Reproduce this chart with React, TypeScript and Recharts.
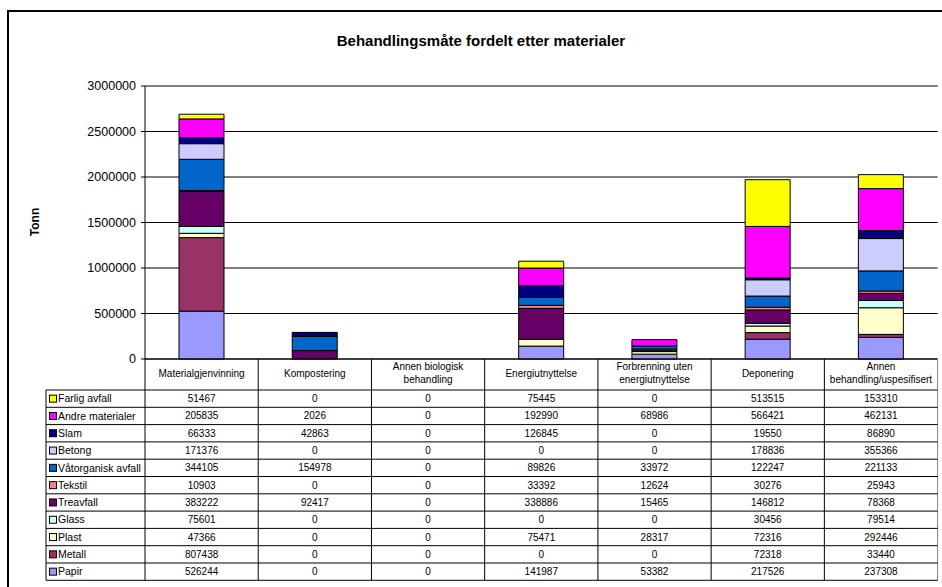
import React from 'react'
import { BarChart, Bar, XAxis, YAxis, CartesianGrid, ReferenceLine } from 'recharts'

const CATEGORIES = [
  'Materialgjenvinning',
  'Kompostering',
  'Annen biologisk behandling',
  'Energiutnyttelse',
  'Forbrenning uten energiutnyttelse',
  'Deponering',
  'Annen behandling/uspesifisert',
]

const PAPIR = [526244, 0, 0, 141987, 53382, 217526, 237308]
const METALL = [807438, 0, 0, 0, 0, 72318, 33440]
const PLAST = [47366, 0, 0, 75471, 28317, 72316, 292446]
const GLASS = [75601, 0, 0, 0, 0, 30456, 79514]
const TREAVFALL = [383222, 92417, 0, 338886, 15465, 146812, 78368]
const TEKSTIL = [10903, 0, 0, 33392, 12624, 30276, 25943]
const VATORGANISK = [344105, 154978, 0, 89826, 33972, 122247, 221133]
const BETONG = [171376, 0, 0, 0, 0, 178836, 355366]
const SLAM = [66333, 42863, 0, 126845, 0, 19550, 86890]
const ANDRE = [205835, 2026, 0, 192990, 68986, 566421, 462131]
const FARLIG = [51467, 0, 0, 75445, 0, 513515, 153310]

const Y_TICKS = [0, 500000, 1000000, 1500000, 2000000, 2500000, 3000000]

// stack order, bottom first
const SERIES: { name: string; values: number[]; color: string }[] = [
  { name: 'Papir', values: PAPIR, color: '#9999FF' },
  { name: 'Metall', values: METALL, color: '#993366' },
  { name: 'Plast', values: PLAST, color: '#FFFFCC' },
  { name: 'Glass', values: GLASS, color: '#CCFFFF' },
  { name: 'Treavfall', values: TREAVFALL, color: '#660066' },
  { name: 'Tekstil', values: TEKSTIL, color: '#FF8080' },
  { name: 'Våtorganisk avfall', values: VATORGANISK, color: '#0066CC' },
  { name: 'Betong', values: BETONG, color: '#CCCCFF' },
  { name: 'Slam', values: SLAM, color: '#000080' },
  { name: 'Andre materialer', values: ANDRE, color: '#FF00FF' },
  { name: 'Farlig avfall', values: FARLIG, color: '#FFFF00' },
]

const data = CATEGORIES.map((category, i) => {
  const row: Record<string, string | number> = { category }
  SERIES.forEach((s) => (row[s.name] = s.values[i]))
  return row
})

const FONT = "Arial, 'Liberation Sans', sans-serif"
const W = 942
const H = 587
const PLOT_LEFT = 145
const PLOT_RIGHT = 937.6
const PLOT_TOP = 86
const PLOT_BOTTOM = 359
const BAND = (PLOT_RIGHT - PLOT_LEFT) / CATEGORIES.length
const HEADER_BOTTOM = 390
const ROW_H = 17.3
const LEGEND_LEFT = 46
const TABLE_ROWS = [...SERIES].reverse()
const TABLE_BOTTOM = HEADER_BOTTOM + ROW_H * TABLE_ROWS.length

function wrap(text: string, maxChars: number) {
  const words = text.split(' ')
  const lines: string[] = []
  let cur = ''
  for (const w of words) {
    const next = cur ? cur + ' ' + w : w
    if (next.length > maxChars && cur) {
      lines.push(cur)
      cur = w
    } else cur = next
  }
  if (cur) lines.push(cur)
  return lines
}

function TableColumn(props: any) {
  const { x, payload } = props
  const i: number = payload.index
  const left = x - BAND / 2
  const right = x + BAND / 2
  const lines = wrap(String(payload.value), 20)
  const headY = (PLOT_BOTTOM + HEADER_BOTTOM) / 2 - 1.5 - ((lines.length - 1) * 12.5) / 2
  return (
    <g fontFamily={FONT} fontSize={10} fill="#000">
      <line x1={left} x2={left} y1={PLOT_BOTTOM} y2={TABLE_BOTTOM} stroke="#000" />
      {i === CATEGORIES.length - 1 && (
        <line x1={right} x2={right} y1={PLOT_BOTTOM} y2={TABLE_BOTTOM} stroke="#808080" />
      )}
      {lines.map((l, k) => (
        <text key={k} x={x} y={headY + k * 12.5} dy="0.35em" textAnchor="middle">
          {l}
        </text>
      ))}
      {TABLE_ROWS.map((s, r) => (
        <g key={s.name}>
          <line x1={left} x2={right} y1={HEADER_BOTTOM + r * ROW_H} y2={HEADER_BOTTOM + r * ROW_H} stroke="#000" />
          <text x={x} y={HEADER_BOTTOM + (r + 0.5) * ROW_H} dy="0.35em" textAnchor="middle">
            {s.values[i]}
          </text>
        </g>
      ))}
      <line x1={left} x2={right} y1={TABLE_BOTTOM} y2={TABLE_BOTTOM} stroke="#000" />
      {i === 0 && (
        <g>
          <line x1={LEGEND_LEFT} x2={LEGEND_LEFT} y1={HEADER_BOTTOM} y2={TABLE_BOTTOM} stroke="#000" />
          <line x1={LEGEND_LEFT} x2={left} y1={TABLE_BOTTOM} y2={TABLE_BOTTOM} stroke="#000" />
          {TABLE_ROWS.map((s, r) => {
            const cy = HEADER_BOTTOM + (r + 0.5) * ROW_H
            return (
              <g key={s.name}>
                <line x1={LEGEND_LEFT} x2={left} y1={HEADER_BOTTOM + r * ROW_H} y2={HEADER_BOTTOM + r * ROW_H} stroke="#000" />
                <rect x={49.5} y={cy - 3.5} width={7} height={7} fill={s.color} stroke="#000" />
                <text x={58} y={cy} dy="0.35em" textAnchor="start" fontSize={10.5}>
                  {s.name}
                </text>
              </g>
            )
          })}
        </g>
      )}
    </g>
  )
}

export default function App() {
  return (
    <div style={{ position: 'absolute', left: 0, top: 0, width: W, height: H, overflow: 'hidden', background: '#fff', fontFamily: FONT }}>
      <div style={{ position: 'absolute', left: 7, top: 10, width: 2000, height: 2000, borderLeft: '2px solid #000', borderTop: '2px solid #000' }} />
      <div style={{ position: 'absolute', left: 281, width: 400, top: 32, textAlign: 'center', fontSize: 15, fontWeight: 'bold' }}>
        Behandlingsmåte fordelt etter materialer
      </div>
      <div style={{ position: 'absolute', left: 35, top: 222, transform: 'translate(-50%, -50%) rotate(-90deg)', fontSize: 12, fontWeight: 'bold' }}>
        Tonn
      </div>
      <div style={{ position: 'absolute', left: 0, top: 0 }}>
        <BarChart width={W} height={H} data={data} margin={{ top: PLOT_TOP, right: W - PLOT_RIGHT, bottom: 0, left: 0 }}>
          <CartesianGrid vertical={false} stroke="#000" />
          <XAxis
            dataKey="category"
            height={H - PLOT_BOTTOM}
            interval={0}
            tickLine={false}
            tickSize={0}
            axisLine={{ stroke: '#000' }}
            tick={(p: any) => <TableColumn {...p} />}
          />
          <YAxis
            width={PLOT_LEFT}
            domain={[0, 3000000]}
            ticks={Y_TICKS}
            interval={0}
            tickSize={4}
            tickMargin={5}
            axisLine={{ stroke: '#000' }}
            tickLine={{ stroke: '#000' }}
            tick={{ fill: '#000', fontSize: 12.5, fontFamily: FONT }}
          />
          <ReferenceLine y={3000000} stroke="#808080" />
          {SERIES.map((s) => (
            <Bar key={s.name} dataKey={s.name} stackId="a" fill={s.color} stroke="#000" strokeWidth={1} barSize={45} isAnimationActive={false} />
          ))}
        </BarChart>
      </div>
    </div>
  )
}
